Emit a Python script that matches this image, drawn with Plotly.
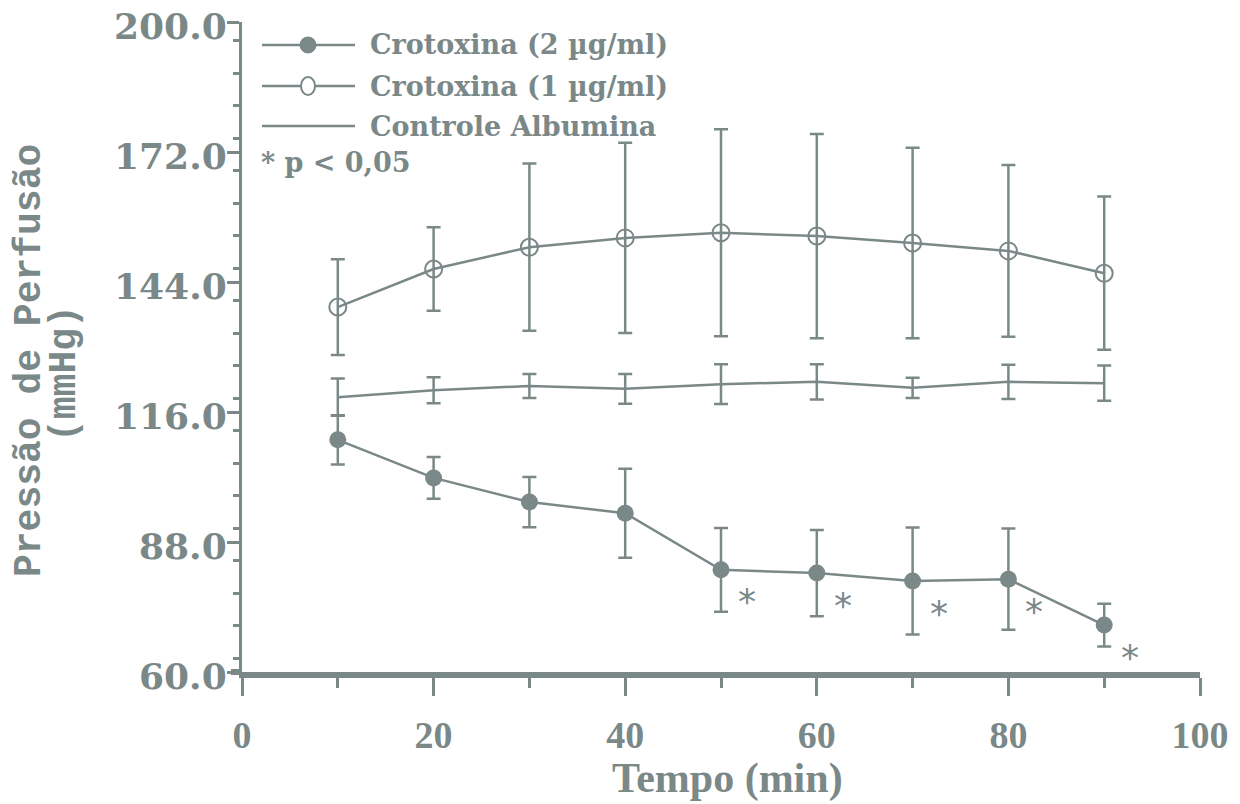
import plotly.graph_objects as go

# ---- data ----
tempo = [10, 20, 30, 40, 50, 60, 70, 80, 90]

croto2_mean = [110.0, 101.8, 96.6, 94.2, 82.0, 81.3, 79.6, 80.0, 70.1]
croto2_err = [5.3, 4.5, 5.4, 9.6, 9.0, 9.3, 11.5, 10.9, 4.6]

croto1_mean = [138.6, 146.8, 151.5, 153.5, 154.6, 153.9, 152.4, 150.7, 145.9]
croto1_err = [10.3, 9.0, 18.0, 20.5, 22.3, 22.0, 20.5, 18.5, 16.5]

albumina_mean = [119.2, 120.7, 121.6, 121.0, 122.0, 122.5, 121.2, 122.5, 122.2]
albumina_err = [4.0, 2.8, 2.6, 3.2, 4.3, 3.8, 2.2, 3.7, 3.8]

sig_times = [50, 60, 70, 80, 90]  # * p < 0,05 (Crotoxina 2 µg/ml)

y_ticks = [60, 88, 116, 144, 172, 200]
y_tick_labels = ["60.0", "88.0", "116.0", "144.0", "172.0", "200.0"]
x_ticks = [0, 20, 40, 60, 80, 100]

legend_labels = ["Crotoxina (2 µg/ml)", "Crotoxina (1 µg/ml)", "Controle Albumina"]
sig_label = "* p < 0,05"
y_title_lines = ["Pressão de Perfusão", "(mmHg)"]
x_title = "Tempo (min)"

C = "#7b8888"
OFF = 8  # page body margin
W, H = 1240 - OFF, 804 - OFF
PL, PT, PWID, PHGT = 242, 22, 958, 650  # plot area in page pixels
ML, MT = PL - OFF, PT - OFF
MR = W - ML - PWID
MB = H - MT - PHGT

fig = go.Figure()

err_style = dict(type="data", color=C, thickness=2.5, width=7)

fig.add_trace(go.Scatter(
    x=tempo, y=albumina_mean, mode="lines",
    line=dict(color=C, width=2.5),
    error_y=dict(array=albumina_err, **err_style),
    name=legend_labels[2], showlegend=False))

fig.add_trace(go.Scatter(
    x=tempo, y=croto1_mean, mode="lines+markers",
    line=dict(color=C, width=2.5),
    marker=dict(symbol="circle-open", size=17, color=C, line=dict(width=2, color=C)),
    error_y=dict(array=croto1_err, **err_style),
    name=legend_labels[1], showlegend=False))

fig.add_trace(go.Scatter(
    x=tempo, y=croto2_mean, mode="lines+markers",
    line=dict(color=C, width=2.5),
    marker=dict(symbol="circle", size=17, color=C),
    error_y=dict(array=croto2_err, **err_style),
    name=legend_labels[0], showlegend=False))

annotations = []
# significance asterisks
for t in sig_times:
    i = tempo.index(t)
    annotations.append(dict(
        x=t, y=croto2_mean[i], xref="x", yref="y", text="*", showarrow=False,
        xshift=26, yshift=-32, font=dict(family="DejaVu Sans", size=36, color=C)))

# y tick labels, placed on the y scale (slightly below each tick as in the original)
for v, lab in zip(y_ticks, y_tick_labels):
    annotations.append(dict(
        x=0, y=v, xref="paper", yref="y", text=lab, showarrow=False,
        xanchor="right", yanchor="middle", xshift=-13, yshift=-4,
        font=dict(family="DejaVu Serif", size=36, color=C, weight="bold")))

# manual legend (page pixel -> paper coords)
def px2x(px):
    return (px - PL) / PWID

def py2y(py):
    return (PT + PHGT - py) / PHGT

rows_py = [45, 86, 126]
shapes = []
for k, py in enumerate(rows_py):
    yy = py2y(py)
    shapes.append(dict(type="line", xref="paper", yref="paper",
                       x0=px2x(262), x1=px2x(355), y0=yy, y1=yy,
                       line=dict(color=C, width=2.5)))
    if k == 0:
        shapes.append(dict(type="circle", xref="paper", yref="paper",
                           xsizemode="pixel", ysizemode="pixel",
                           xanchor=px2x(308), yanchor=yy,
                           x0=-8, x1=8, y0=-8, y1=8,
                           fillcolor=C, line=dict(color=C, width=1)))
    elif k == 1:
        shapes.append(dict(type="circle", xref="paper", yref="paper",
                           xsizemode="pixel", ysizemode="pixel",
                           xanchor=px2x(308), yanchor=yy,
                           x0=-7, x1=7, y0=-9, y1=9,
                           fillcolor="white", line=dict(color=C, width=2)))
    annotations.append(dict(
        x=px2x(368), y=yy, xref="paper", yref="paper", text=legend_labels[k],
        showarrow=False, xanchor="left", yanchor="middle",
        font=dict(family="DejaVu Serif", size=27, color=C, weight="bold")))

annotations.append(dict(
    x=px2x(259), y=py2y(163), xref="paper", yref="paper", text=sig_label,
    showarrow=False, xanchor="left", yanchor="middle",
    font=dict(family="DejaVu Serif", size=27, color=C, weight="bold")))

# y-axis title (two lines, monospaced)
for txt, cx, cy in [(y_title_lines[0], 29, 361), (y_title_lines[1], 64, 374)]:
    annotations.append(dict(
        x=px2x(cx), y=py2y(cy), xref="paper", yref="paper",
        text=txt, textangle=-90, showarrow=False,
        xanchor="center", yanchor="middle",
        font=dict(family="Liberation Mono", size=38, color=C, weight="bold")))

# x-axis title
annotations.append(dict(
    x=px2x(727), y=py2y(778), xref="paper", yref="paper",
    text=x_title, showarrow=False, xanchor="center", yanchor="middle",
    font=dict(family="Liberation Serif", size=42, color=C, weight="bold")))

# extension of x-axis line to the left of the y-axis
shapes.append(dict(type="line", xref="paper", yref="paper",
                   x0=px2x(231), x1=0, y0=0, y1=0,
                   line=dict(color=C, width=6)))

fig.update_layout(
    width=W, height=H,
    margin=dict(l=ML, r=MR, t=MT, b=MB, autoexpand=False),
    paper_bgcolor="white", plot_bgcolor="white",
    showlegend=False,
    shapes=shapes, annotations=annotations,
    xaxis=dict(
        range=[0, 100], tickvals=x_ticks, ticktext=[str(v) for v in x_ticks],
        ticks="outside", ticklen=18, tickwidth=3, tickcolor=C,
        minor=dict(tickvals=[10, 30, 50, 70, 90], ticks="outside", ticklen=10,
                   tickwidth=3, tickcolor=C),
        showline=True, linecolor=C, linewidth=6,
        showgrid=False, zeroline=False,
        ticklabelstandoff=6, ticklabeloverflow="allow",
        tickfont=dict(family="Liberation Serif", size=38, color=C, weight="bold"),
    ),
    yaxis=dict(
        range=[60, 200], tickvals=y_ticks, showticklabels=False,
        ticks="outside", ticklen=12, tickwidth=3, tickcolor=C,
        minor=dict(dtick=7, ticks="outside", ticklen=6, tickwidth=3, tickcolor=C,
                   showgrid=False),
        showline=True, linecolor=C, linewidth=3,
        showgrid=False, zeroline=False,
    ),
)

fig.write_html("out.html")
